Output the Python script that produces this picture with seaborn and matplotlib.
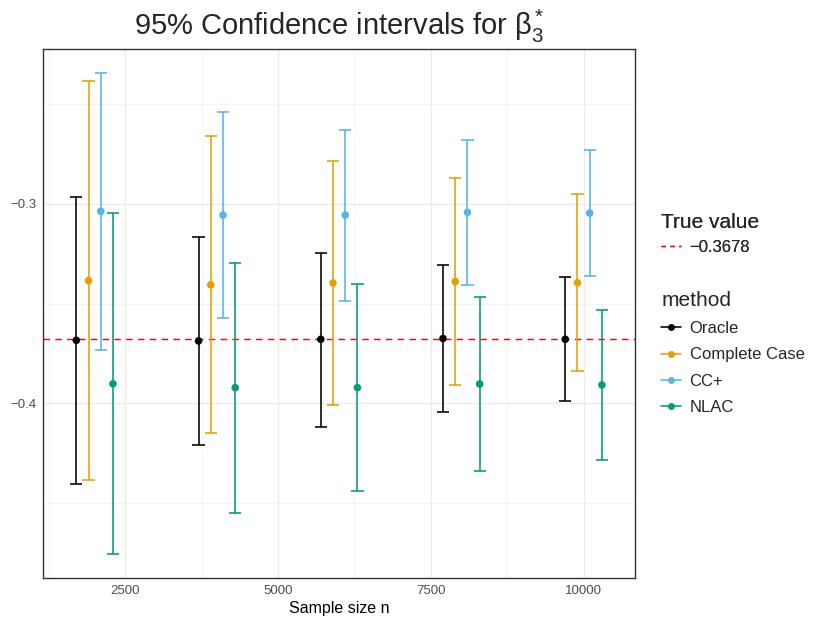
import numpy as np
import pandas as pd
import seaborn as sns
import matplotlib
matplotlib.use("Agg")
import matplotlib.pyplot as plt
from matplotlib.lines import Line2D

# Simulation results: point estimates and 95% CI bounds for beta_3*
sample_sizes = [2000, 4000, 6000, 8000, 10000]
methods = ["Oracle", "Complete Case", "CC+", "NLAC"]

oracle_est = [-0.3684, -0.3687, -0.3679, -0.3675, -0.3679]
oracle_lo = [-0.4406, -0.4209, -0.4116, -0.4041, -0.3990]
oracle_hi = [-0.2964, -0.3166, -0.3247, -0.3309, -0.3366]

cc_est = [-0.3385, -0.3406, -0.3397, -0.3390, -0.3396]
cc_lo = [-0.4383, -0.4149, -0.4010, -0.3910, -0.3836]
cc_hi = [-0.2387, -0.2663, -0.2786, -0.2869, -0.2953]

ccplus_est = [-0.3038, -0.3057, -0.3057, -0.3043, -0.3047]
ccplus_lo = [-0.3732, -0.3570, -0.3485, -0.3406, -0.3363]
ccplus_hi = [-0.2345, -0.2542, -0.2630, -0.2680, -0.2731]

nlac_est = [-0.3902, -0.3921, -0.3921, -0.3903, -0.3908]
nlac_lo = [-0.4753, -0.4548, -0.4437, -0.4340, -0.4282]
nlac_hi = [-0.3048, -0.3295, -0.3404, -0.3465, -0.3534]

true_value = -0.3678

palette = {"Oracle": "#000000", "Complete Case": "#E69F00",
           "CC+": "#56B4E9", "NLAC": "#009E73"}
dodge = {"Oracle": -300, "Complete Case": -100, "CC+": 100, "NLAC": 300}
cap_half = 100

est = {"Oracle": oracle_est, "Complete Case": cc_est, "CC+": ccplus_est, "NLAC": nlac_est}
lo = {"Oracle": oracle_lo, "Complete Case": cc_lo, "CC+": ccplus_lo, "NLAC": nlac_lo}
hi = {"Oracle": oracle_hi, "Complete Case": cc_hi, "CC+": ccplus_hi, "NLAC": nlac_hi}

rows = []
for m in methods:
    for i, n in enumerate(sample_sizes):
        rows.append({"n": n, "method": m, "estimate": est[m][i],
                     "lower": lo[m][i], "upper": hi[m][i]})
df = pd.DataFrame(rows)
df["x"] = df["n"] + df["method"].map(dodge)

sns.set_theme(style="white")
plt.rcParams["font.family"] = ["Liberation Sans", "DejaVu Sans"]
plt.rcParams["mathtext.fontset"] = "custom"
plt.rcParams["mathtext.rm"] = "Liberation Sans"
plt.rcParams["mathtext.it"] = "Liberation Sans:italic"

fig = plt.figure(figsize=(8.14, 6.25), dpi=100)
ax = fig.add_axes([0.0532, 0.0757, 0.7268, 0.8459])

# grid
ax.set_xticks([2500, 5000, 7500, 10000])
ax.set_xticks([1250, 3750, 6250, 8750], minor=True)
ax.set_yticks([-0.4, -0.3])
ax.set_yticks([-0.45, -0.35, -0.25], minor=True)
ax.grid(which="major", color="#EBEBEB", linewidth=1.0)
ax.grid(which="minor", color="#F2F2F2", linewidth=0.6)
ax.set_axisbelow(True)

# reference line for the true value
ax.axhline(true_value, color="#FF0000", linewidth=1.0, linestyle=(0, (4.7, 3.8)), zorder=2)

# error bars with caps
lw = 1.15
for _, r in df.iterrows():
    c = palette[r["method"]]
    ax.vlines(r["x"], r["lower"], r["upper"], color=c, linewidth=lw, zorder=3)
    ax.hlines([r["lower"], r["upper"]], r["x"] - cap_half, r["x"] + cap_half,
              color=c, linewidth=lw, zorder=3)

sns.scatterplot(data=df, x="x", y="estimate", hue="method", palette=palette,
                hue_order=methods, s=30, edgecolor="none", legend=False,
                ax=ax, zorder=4)

ax.set_xlim(1160, 10840)
ax.set_ylim(-0.4873, -0.2225)

ax.set_xticklabels(["2500", "5000", "7500", "10000"])
ax.set_yticklabels(["\u22120.4", "\u22120.3"])
ax.tick_params(axis="both", which="major", length=3, width=0.8, color="#333333",
               labelsize=9.5, labelcolor="#4D4D4D", pad=2)
ax.tick_params(axis="both", which="minor", length=0)
for s in ax.spines.values():
    s.set_color("#333333")
    s.set_linewidth(1.0)

ax.set_xlabel("Sample size n", fontsize=11.5, color="black", labelpad=3)
ax.set_ylabel("")
ax.set_title(r"95% Confidence intervals for $\mathrm{\beta}_3^*$", fontsize=21, pad=10)

# legends
true_handle = [Line2D([], [], color="#FF0000", linewidth=1.0, linestyle=(0, (3.2, 3.2)))]
leg1 = fig.legend(true_handle, ["\u22120.3678"], title="True value",
                  loc="upper left", bbox_to_anchor=(0.8123, 1 - 213 / 625),
                  frameon=False, fontsize=12, title_fontsize=15,
                  handlelength=1.2, handletextpad=0.5, alignment="left",
                  borderaxespad=0, borderpad=0)
method_handles = [Line2D([], [], color=palette[m], linewidth=lw, marker="o",
                         markersize=5, markeredgewidth=0) for m in methods]
leg2 = fig.legend(method_handles, methods, title="method",
                  loc="upper left", bbox_to_anchor=(0.8123, 1 - 291 / 625),
                  frameon=False, fontsize=12, title_fontsize=15,
                  handlelength=1.2, handletextpad=0.5, alignment="left",
                  labelspacing=0.67, borderaxespad=0, borderpad=0)
fig.add_artist(leg1)

fig.savefig("out.png", dpi=100)
